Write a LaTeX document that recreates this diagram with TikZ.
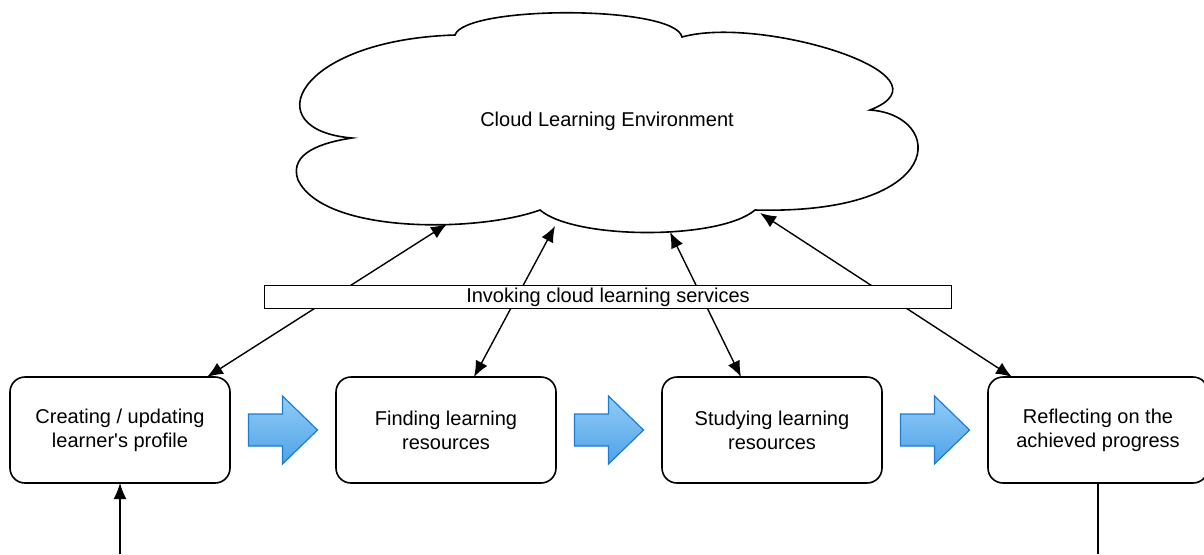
\documentclass[tikz,border=0pt]{standalone}
\usepackage{fontspec}
\setmainfont{Liberation Sans}
\usepackage{tikz}
\usetikzlibrary{arrows.meta,positioning,calc}

\definecolor{flowtop}{RGB}{146,204,246}
\definecolor{flowbot}{RGB}{78,162,232}
\definecolor{flowedge}{RGB}{28,124,212}

\begin{document}
\begin{tikzpicture}[x=0.5pt, y=-0.5pt, node distance=53pt,
	every node/.style={font=\fontsize{10pt}{12pt}\selectfont},
	phase/.style={draw, line width=0.8pt, rounded corners=7.5pt, minimum width=110pt, minimum height=53pt, align=center, inner sep=0pt, outer sep=0pt},
	link/.style={line width=0.7pt, {Latex[length=8pt,width=6.5pt]}-{Latex[length=8pt,width=6.5pt]}},
	flow/.style={draw=flowedge, line width=0.6pt, top color=flowtop, bottom color=flowbot, line join=miter}]
		\useasboundingbox (0,0) rectangle (1204,554);
		% cloud
		\draw[line width=0.8pt, fill=white]
			(352,138) .. controls (255,130) and (295,40) .. (455,35)
			.. controls (465,5) and (675,5) .. (682,37)
			.. controls (760,15) and (960,75) .. (870,110)
			.. controls (945,115) and (950,215) .. (755,210)
			.. controls (720,240) and (575,240) .. (540,210)
			.. controls (480,232) and (325,235) .. (298,180)
			.. controls (288,152) and (325,142) .. (352,138) -- cycle;
		\node (env) at (607,121) {Cloud Learning Environment};
		\coordinate (c1) at (447,224);
		\coordinate (c2) at (555,226);
		\coordinate (c3) at (670,232);
		\coordinate (c4) at (760,213);
		% learning steps
		\node[phase] (create) at (120,430) {Creating / updating\\learner\textquotesingle s profile};
		\node[phase, right=of create] (find) {Finding learning\\resources};
		\node[phase, right=of find] (study) {Studying learning\\resources};
		\node[phase, right=of study] (reflect) {Reflecting on the\\achieved progress};
		% block arrows between steps
		\foreach \a/\b in {create/find, find/study, study/reflect}
			\draw[flow] ($(\a.east)!0.5!(\b.west)$) ++(-34.5,-16) -- ++(34,0) -- ++(0,-18)
				-- ++(35,34) -- ++(-35,34) -- ++(0,-18) -- ++(-34,0) -- cycle;
		% service calls
		\draw[link] ($(create.north)+(87,0)$) -- (c1);
		\draw[link] ($(find.north)+(28,0)$) -- (c2);
		\draw[link] ($(study.north)+(-31,0)$) -- (c3);
		\draw[link] ($(reflect.north)+(-86,0)$) -- (c4);
		\node[draw, fill=white, line width=0.6pt, minimum width=343.5pt, minimum height=11.5pt, inner sep=0pt] (invoke) at (608,297) {Invoking cloud learning services};
		% loop in and out
		\coordinate (low) at (0,554);
		\draw[line width=0.7pt, -{Latex[length=8pt,width=6.5pt]}] (create.south |- low) -- (create.south);
		\draw[line width=0.7pt] (reflect.south) -- (reflect.south |- low);
	\end{tikzpicture}
\end{document}
